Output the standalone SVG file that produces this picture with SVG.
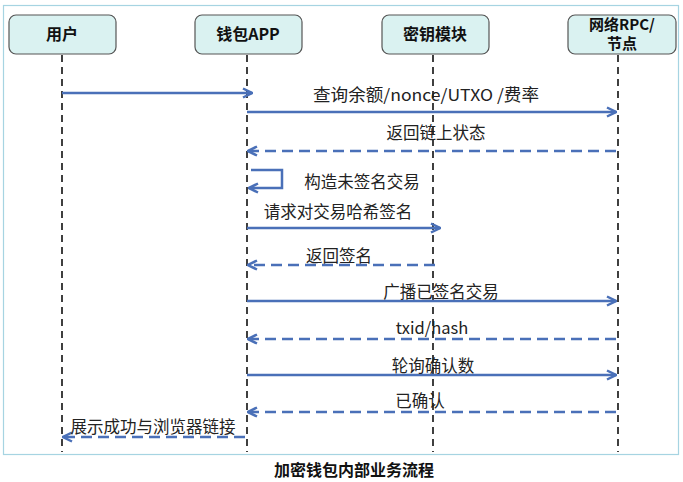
<svg xmlns="http://www.w3.org/2000/svg" width="683" height="482" viewBox="0 0 683 482">
<defs>
<style>
.box{fill:#daf2f1;stroke:#555;stroke-width:1.2}
.hd{font-family:"Noto Sans CJK SC","Liberation Sans",sans-serif;font-size:16px;font-weight:bold;fill:#111;text-anchor:middle}
.hd2{font-size:15px}
.life{stroke:#111;stroke-width:1.6;stroke-dasharray:7 5;fill:none}
.msg{stroke:#4a70b8;stroke-width:2.5;fill:none}
.dash{stroke-dasharray:11 6}
.lb{font-family:"Noto Sans CJK SC","Liberation Sans",sans-serif;font-size:16.5px;fill:#222;text-anchor:middle}
</style>
<marker id="ah" viewBox="0 0 12 12" refX="11" refY="6" markerWidth="12" markerHeight="12" orient="auto-start-reverse" markerUnits="userSpaceOnUse">
<polyline points="2,1.5 11,6 2,10.5" fill="none" stroke="#4a70b8" stroke-width="2.5"/>
</marker>
</defs>
<rect x="0" y="0" width="683" height="482" fill="#fff"/>
<rect x="3.5" y="5.5" width="675" height="449" fill="none" stroke="#a6d4e2" stroke-width="1.2"/>
<g id="lifelines">
<line class="life" x1="62" y1="55" x2="62" y2="452"/>
<line class="life" x1="247" y1="55" x2="247" y2="452"/>
<line class="life" x1="433" y1="55" x2="433" y2="452"/>
<line class="life" x1="618" y1="55" x2="618" y2="452"/>
</g>
<g id="user"><rect class="box" x="9" y="15" width="107" height="39" rx="7"/><text class="hd" x="62" y="40">用户</text></g>
<g id="wallet"><rect class="box" x="195" y="15" width="107" height="39" rx="7"/><text class="hd" x="248" y="40">钱包APP</text></g>
<g id="key"><rect class="box" x="382" y="15" width="107" height="39" rx="7"/><text class="hd" x="435" y="40">密钥模块</text></g>
<g id="network"><rect class="box" x="568" y="15" width="108" height="39" rx="7"/><text class="hd hd2" x="622" y="30">网络RPC/</text><text class="hd hd2" x="622" y="49">节点</text></g>
<g id="connectors">
<line class="msg" x1="62" y1="93" x2="252" y2="93" marker-end="url(#ah)"/>
<line class="msg" x1="247" y1="112" x2="616" y2="112" marker-end="url(#ah)"/>
<line class="msg dash" x1="616" y1="151" x2="248" y2="151" marker-end="url(#ah)"/>
<polyline class="msg" points="251,170 282,170 282,188 249,188" marker-end="url(#ah)"/>
<line class="msg" x1="247" y1="228" x2="440" y2="228" marker-end="url(#ah)"/>
<line class="msg dash" x1="435" y1="265" x2="248" y2="265" marker-end="url(#ah)"/>
<line class="msg" x1="247" y1="301" x2="616" y2="301" marker-end="url(#ah)"/>
<line class="msg dash" x1="616" y1="339" x2="248" y2="339" marker-end="url(#ah)"/>
<line class="msg" x1="247" y1="375" x2="616" y2="375" marker-end="url(#ah)"/>
<line class="msg dash" x1="616" y1="412" x2="248" y2="412" marker-end="url(#ah)"/>
<line class="msg dash" x1="245" y1="437" x2="63" y2="437" marker-end="url(#ah)"/>
</g>
<g id="labels">
<text class="lb" x="426" y="101" textLength="226" lengthAdjust="spacingAndGlyphs">查询余额/nonce/UTXO /费率</text>
<text class="lb" x="436" y="139">返回链上状态</text>
<text class="lb" x="362" y="188">构造未签名交易</text>
<text class="lb" x="338" y="218">请求对交易哈希签名</text>
<text class="lb" x="339" y="262">返回签名</text>
<text class="lb" x="441" y="298">广播已签名交易</text>
<text class="lb" x="432" y="334">txid/hash</text>
<text class="lb" x="433" y="372">轮询确认数</text>
<text class="lb" x="420" y="407">已确认</text>
<text class="lb" x="153" y="433">展示成功与浏览器链接</text>
</g>
<text x="354" y="476" font-family="Noto Sans CJK SC,Liberation Sans,sans-serif" font-size="16" font-weight="bold" fill="#111" text-anchor="middle">加密钱包内部业务流程</text>
</svg>
